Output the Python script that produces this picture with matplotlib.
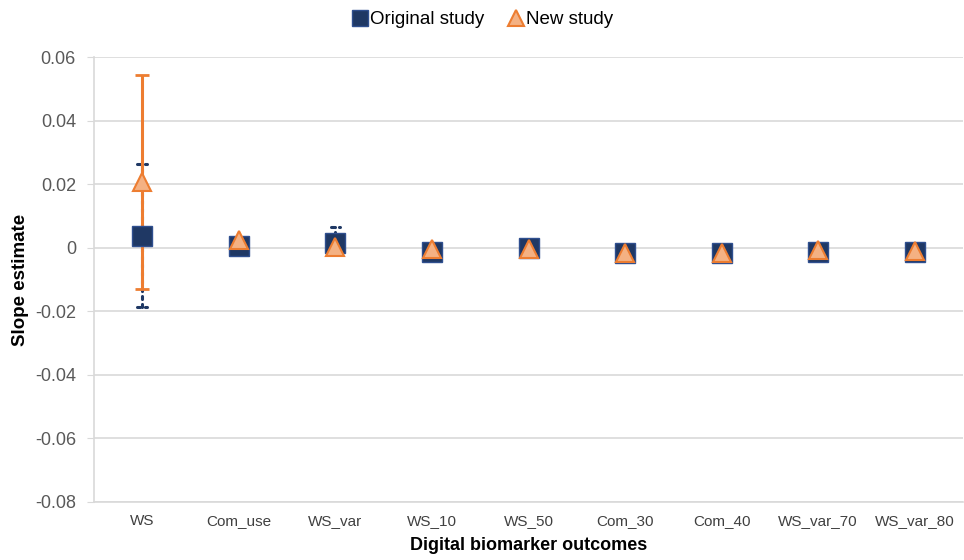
import matplotlib.pyplot as plt
from matplotlib.lines import Line2D

plt.rcParams['font.family'] = ['Liberation Sans', 'DejaVu Sans']

outcomes = ['WS', 'Com_use', 'WS_var', 'WS_10', 'WS_50', 'Com_30', 'Com_40', 'WS_var_70', 'WS_var_80']

orig_est = [0.0038, 0.0006, 0.0014, -0.0012, -0.0001, -0.0017, -0.0017, -0.0012, -0.0012]
orig_lo  = [-0.0188, None, None, None, None, None, None, None, None]
orig_hi  = [0.0264, None, 0.0066, None, None, None, None, None, None]

new_est = [0.0207, 0.0024, 0.0002, -0.0005, -0.0003, -0.0016, -0.0016, -0.0008, -0.0009]
new_lo  = [-0.0129, None, None, None, None, None, None, None, None]
new_hi  = [0.0543, None, None, None, None, None, None, None, None]

navy = '#1f3864'
navy_edge = '#2f4f8f'
orange = '#ed7d31'
orange_fill = '#f4b183'

fig = plt.figure(figsize=(9.64, 5.6), dpi=100)
ax = fig.add_axes([0.0975, 0.1036, 0.9015, 0.7946])

x = list(range(len(outcomes)))

# dotted CI for original study
dot = dict(color=navy, lw=2.2, ls=(0, (1, 1.6)), dash_capstyle='round', zorder=2)
for i in x:
    lo = orig_lo[i] if orig_lo[i] is not None else orig_est[i]
    hi = orig_hi[i] if orig_hi[i] is not None else orig_est[i]
    ax.plot([i, i], [lo, hi], **dot)
    if orig_lo[i] is not None:
        ax.plot([i - 0.05, i + 0.05], [lo, lo], **dot)
    if orig_hi[i] is not None:
        ax.plot([i - 0.05, i + 0.05], [hi, hi], **dot)

# solid CI for new study
for i in x:
    if new_lo[i] is not None:
        ax.errorbar(i, new_est[i], yerr=[[new_est[i] - new_lo[i]], [new_hi[i] - new_est[i]]],
                    fmt='none', ecolor=orange, elinewidth=2.2, capsize=5, capthick=2, zorder=3)

ax.plot(x, orig_est, ls='none', marker='s', ms=14, mfc=navy, mec=navy_edge, mew=1, zorder=4)
ax.plot(x, new_est, ls='none', marker='^', ms=13, mfc=orange_fill, mec=orange, mew=1.5, zorder=5)

ax.set_xlim(-0.5, 8.5)
ax.set_ylim(-0.08, 0.06)
ax.set_yticks([-0.08, -0.06, -0.04, -0.02, 0, 0.02, 0.04, 0.06])
ax.set_yticklabels(['-0.08', '-0.06', '-0.04', '-0.02', '0', '0.02', '0.04', '0.06'])
ax.set_xticks(x)
ax.set_xticklabels(outcomes)
ax.grid(axis='y', color='#d9d9d9', lw=1.2)
ax.set_axisbelow(True)
for s in ['top', 'right']:
    ax.spines[s].set_visible(False)
ax.spines['left'].set_color('#d9d9d9')
ax.spines['bottom'].set_color('#d9d9d9')
ax.spines['left'].set_linewidth(1.2)
ax.spines['bottom'].set_linewidth(1.2)
ax.tick_params(axis='y', colors='#d9d9d9', labelcolor='#595959', labelsize=13, length=5, pad=8)
ax.tick_params(axis='x', length=0, labelcolor='#404040', labelsize=11, pad=9)

ax.set_xlabel('Digital biomarker outcomes', fontsize=13, fontweight='bold', labelpad=6)
ax.set_ylabel('Slope estimate', fontsize=13.5, fontweight='bold', labelpad=4)

handles = [
    Line2D([], [], ls='none', marker='s', ms=12, mfc=navy, mec=navy_edge, label='Original study'),
    Line2D([], [], ls='none', marker='^', ms=11, mfc=orange_fill, mec=orange, mew=1.5, label='New study'),
]
fig.legend(handles=handles, loc='upper center', bbox_to_anchor=(0.5, 1.01), ncol=2, frameon=False,
           fontsize=13.5, handletextpad=0.05, columnspacing=1.2, handlelength=1.0)

fig.savefig('out.png', dpi=100)
